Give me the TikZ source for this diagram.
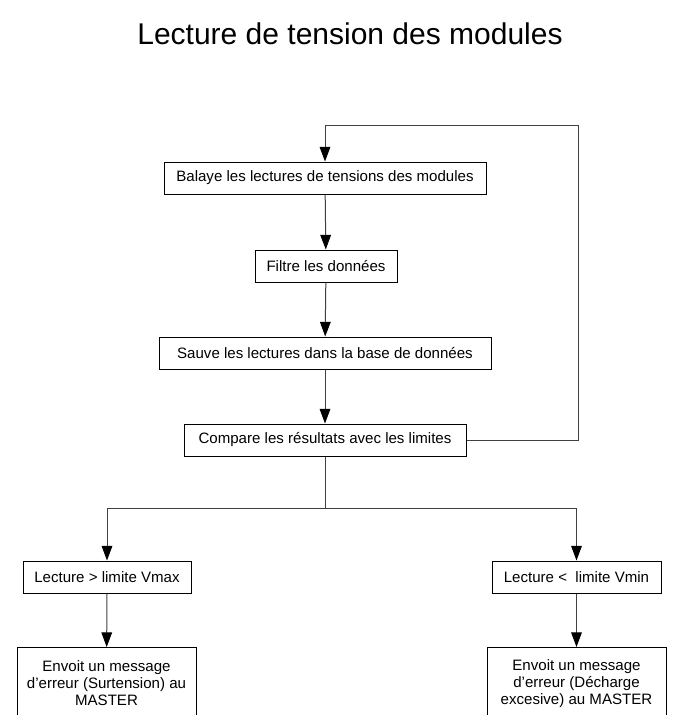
\documentclass[tikz,border=0pt]{standalone}
\usepackage{fontspec}
\setmainfont{Liberation Sans}
\usetikzlibrary{arrows.meta}

\begin{document}
\begin{tikzpicture}[x=0.75pt, y=-0.75pt,
  boite/.style={draw, line width=0.75pt, minimum height=24pt, inner sep=0pt,
    font=\fontsize{11.3}{12.75}\selectfont, align=center},
  fleche/.style={draw=black!75, line width=0.75pt,
    -{Triangle[length=11pt, width=8pt, color=black]}},
  lien/.style={draw=black!75, line width=0.75pt}]
\clip (0,0) rectangle (699,715);

\node at (350,34) {\fontsize{22.5}{27}\selectfont Lecture de tension des modules};

\node[boite, minimum width=241.5pt] (balaye) at (325,178) {Balaye les lectures de tensions des modules};
\node[boite, minimum width=106.5pt] (filtre) at (326,266) {Filtre les données};
\node[boite, minimum width=249pt] (sauve) at (325,353) {Sauve les lectures dans la base de données};
\node[boite, minimum width=211.5pt] (compare) at (325,440) {Compare les résultats avec les limites};

\node[boite, minimum width=126pt] (vmax) at (107,577) {Lecture > limite Vmax};
\node[boite, minimum width=126.75pt] (vmin) at (576.5,577) {Lecture <~ limite Vmin};

\node[boite, minimum width=134.25pt, minimum height=54pt, anchor=north] (surt) at (106.5,647)
  {Envoit un message\\d’erreur (Surtension) au\\MASTER};
\node[boite, minimum width=134.25pt, minimum height=54pt, anchor=north] (decharge) at (576.5,647)
  {Envoit un message\\d’erreur (Décharge\\excesive) au MASTER};

\coordinate (retour) at (578,125);
\coordinate (fourche) at (325,508);

\draw[fleche] (balaye) -- (filtre);
\draw[fleche] (filtre) -- (sauve);
\draw[fleche] (sauve) -- (compare);
\draw[fleche] (compare.east) -| (retour) -| (balaye.north);

\draw[lien] (compare) -- (fourche);
\draw[fleche] (fourche) -| (vmax.north);
\draw[fleche] (fourche) -| (vmin.north);
\draw[fleche] (vmax) -- (surt);
\draw[fleche] (vmin) -- (decharge);
\end{tikzpicture}
\end{document}
